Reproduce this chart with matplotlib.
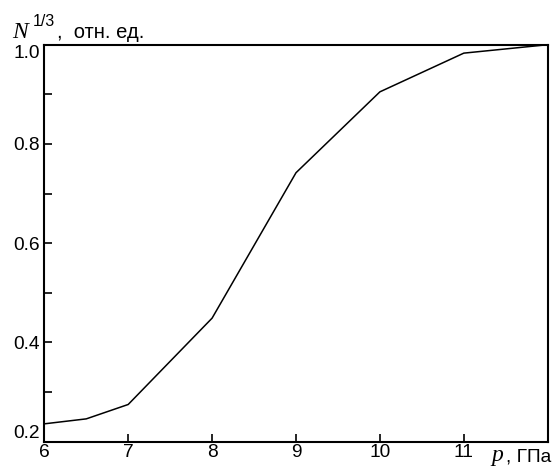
import matplotlib
matplotlib.use("Agg")
import matplotlib.pyplot as plt
from matplotlib.ticker import MultipleLocator

# pressure, GPa and relative N^(1/3)
p = [6.0, 6.5, 7.0, 8.0, 9.0, 10.0, 11.0, 12.0]
n13 = [0.236, 0.246, 0.275, 0.449, 0.742, 0.905, 0.983, 1.0]

xticks = [6, 7, 8, 9, 10, 11]
yticks = [0.2, 0.4, 0.6, 0.8, 1.0]

W, H = 555, 467
fig = plt.figure(figsize=(W / 100, H / 100), dpi=100)
ax = fig.add_axes([44.3 / W, 1 - 441.7 / H, (547.7 - 44.3) / W, (441.7 - 44.7) / H])

ax.plot(p, n13, color="black", lw=1.1)
ax.set_xlim(6, 12)
ax.set_ylim(0.2, 1.0)

ax.set_xticks(xticks)
ax.set_xticklabels([str(t) for t in xticks])
ax.set_yticks(yticks)
ax.set_yticklabels(["%.1f" % t for t in yticks])
ax.yaxis.set_minor_locator(MultipleLocator(0.1))

for s in ax.spines.values():
    s.set_linewidth(1.5)

ax.tick_params(axis="both", which="both", direction="in", width=1.2, length=5.5, colors="black")
ax.tick_params(axis="x", pad=2)
ax.tick_params(axis="y", pad=3)
for lab in ax.get_xticklabels() + ax.get_yticklabels():
    lab.set_fontfamily("Liberation Sans")
    lab.set_fontsize(13.8)
ax.get_yticklabels()[-1].set_verticalalignment("top")
ax.get_yticklabels()[0].set_verticalalignment("bottom")

# y label at the top left
fig.text(12.5 / W, 1 - 37.5 / H, "N", family="Liberation Serif", style="italic", size=17, va="baseline")
fig.text(32.5 / W, 1 - 14 / H, "1/3", family="Liberation Sans", size=11.5, va="top")
fig.text(57 / W, 1 - 37.5 / H, ",  отн. ед.", size=14.5, va="baseline", family="Liberation Sans")

# x label at the bottom right
fig.text(491 / W, 1 - 461 / H, "p", family="Liberation Serif", style="italic", size=17, va="baseline")
fig.text(506 / W, 1 - 461 / H, ", ГПа", size=13.8, va="baseline", family="Liberation Sans")

fig.savefig("out.png", dpi=100, facecolor="white")
